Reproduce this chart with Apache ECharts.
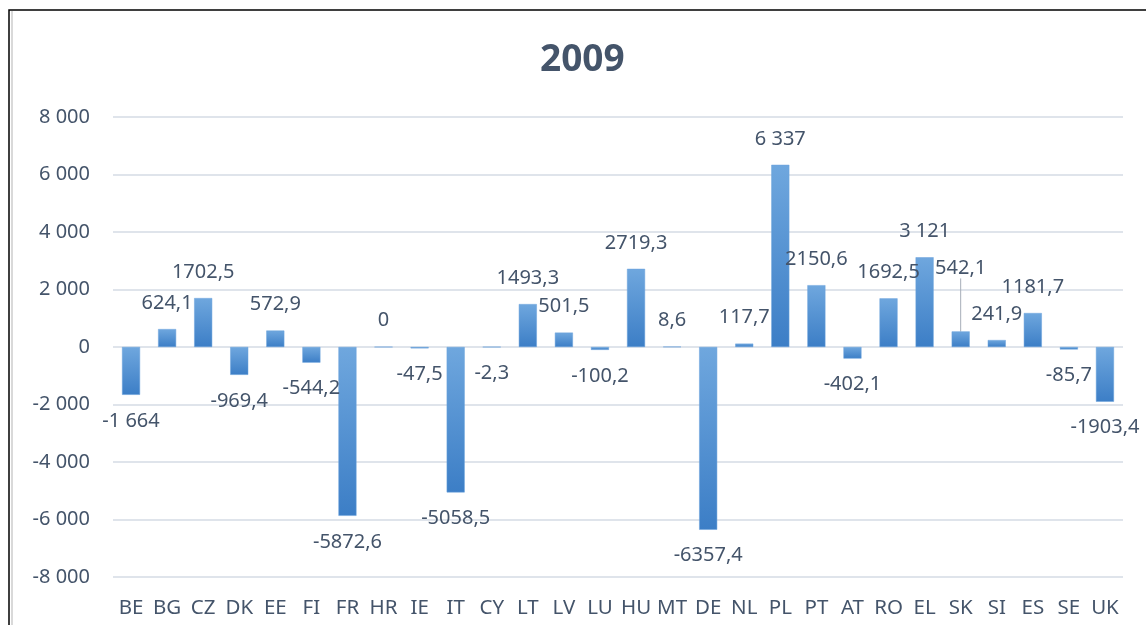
<!DOCTYPE html>
<html>
<head>
<meta charset="utf-8">
<script src="https://cdn.jsdelivr.net/npm/echarts@6/dist/echarts.min.js"></script>
<style>html,body{margin:0;padding:0;background:#fff}#c{width:1146px;height:625px}</style>
</head>
<body>
<div id="c"></div>
<script>
const title = '2009';
const categories = ['BE','BG','CZ','DK','EE','FI','FR','HR','IE','IT','CY','LT','LV','LU','HU','MT','DE','NL','PL','PT','AT','RO','EL','SK','SI','ES','SE','UK'];
const values = [-1664, 624.1, 1702.5, -969.4, 572.9, -544.2, -5872.6, 0, -47.5, -5058.5, -2.3, 1493.3, 501.5, -100.2, 2719.3, 8.6, -6357.4, 117.7, 6337, 2150.6, -402.1, 1692.5, 3121, 542.1, 241.9, 1181.7, -85.7, -1903.4];
const yMin = -8000, yMax = 8000, yStep = 2000;

function groupSpace(v){
  const s = String(Math.abs(v)).replace(/\B(?=(\d{3})+(?!\d))/g, ' ');
  return (v < 0 ? '-' : '') + s;
}
function labelText(v){
  if (Number.isInteger(v)) return groupSpace(v);
  return String(v).replace('.', ',');
}

const textColor = '#44546a';
const font = 'Noto Sans';
const movedLabel = 'SK'; // label lifted with a leader line in the original

const chart = echarts.init(document.getElementById('c'), null, {renderer:'canvas'});
chart.setOption({
  animation: false,
  backgroundColor: '#ffffff',
  title: {
    text: title, left: 535, top: 37,
    textStyle: {fontFamily: font, fontWeight: 'bold', fontSize: 37, color: textColor}
  },
  grid: {left: 113, right: 23, top: 117, bottom: 48, containLabel: false},
  xAxis: {
    type: 'category', data: categories,
    axisLine: {show: false}, axisTick: {show: false},
    axisLabel: {fontFamily: font, fontSize: 20.5, color: textColor, margin: 21, interval: 0}
  },
  yAxis: {
    type: 'value', min: yMin, max: yMax, interval: yStep,
    axisLine: {show: false}, axisTick: {show: false},
    splitLine: {lineStyle: {color: '#dfe4eb', width: 1.8}},
    axisLabel: {fontFamily: font, fontSize: 20, color: textColor, margin: 23, formatter: v => groupSpace(v)}
  },
  series: [{
    type: 'bar',
    barWidth: '50%',
    data: values.map((v, i) => ({
      value: v,
      label: {position: v < 0 ? 'bottom' : 'top'},
      labelLine: {show: categories[i] === movedLabel, lineStyle: {color: '#a6adb8', width: 1}}
    })),
    itemStyle: {
      color: new echarts.graphic.LinearGradient(0, 0, 0, 1, [
        {offset: 0, color: '#6fa7de'},
        {offset: 1, color: '#3c7ec6'}
      ]),
      borderColor: '#6aa3dc', borderWidth: 0.5
    },
    label: {
      show: true, distance: 16,
      fontFamily: font, fontSize: 20, color: textColor,
      formatter: p => labelText(p.value)
    },
    labelLayout: function (p) {
      if (categories[p.dataIndex] === movedLabel) return {dy: -37};
      return {};
    }
  }],
  graphic: [
    {type: 'line', shape: {x1: 12, y1: 11, x2: 12, y2: 625}, style: {stroke: '#d9d9d9', lineWidth: 2}, silent: true},
    {type: 'rect', shape: {x: 9, y: 10, width: 1300, height: 800}, style: {fill: null, stroke: '#000', lineWidth: 1.5}, silent: true}
  ]
});
</script>
</body>
</html>
